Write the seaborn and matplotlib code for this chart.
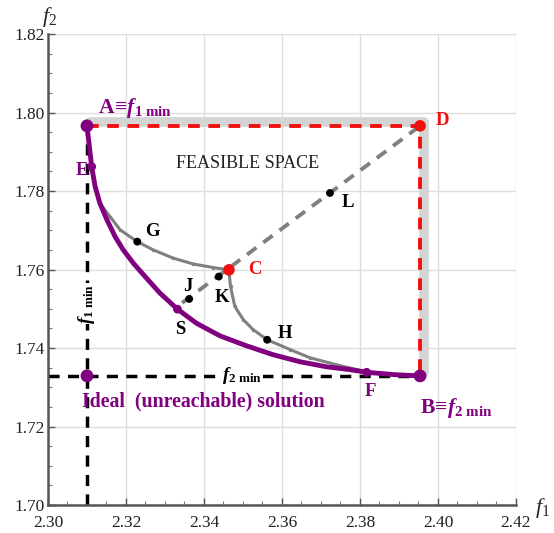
import numpy as np
import pandas as pd
import matplotlib
matplotlib.use("Agg")
import matplotlib.pyplot as plt
import matplotlib.transforms as mtransforms
import seaborn as sns

# Pareto front (objective space f1, f2)
pareto_f1 = [2.3100, 2.3112, 2.3121, 2.3133, 2.3151, 2.3172, 2.3193, 2.3219,
             2.3249, 2.3287, 2.3332, 2.3381, 2.3441, 2.3508, 2.3577, 2.3646,
             2.3715, 2.3774, 2.3818, 2.3890, 2.3954]
pareto_f2 = [1.7966, 1.7862, 1.7811, 1.7769, 1.7727, 1.7684, 1.7650, 1.7616,
             1.7582, 1.7540, 1.7499, 1.7463, 1.7431, 1.7406, 1.7383, 1.7365,
             1.7352, 1.7345, 1.7338, 1.7332, 1.7329]

# Trajectory E -> G -> C
upper_f1 = [2.3112, 2.3121, 2.3133, 2.3159, 2.3185, 2.3229, 2.3270, 2.3321,
            2.3373, 2.3424, 2.3464]
upper_f2 = [1.7862, 1.7811, 1.7769, 1.7735, 1.7701, 1.7671, 1.7650, 1.7629,
            1.7614, 1.7605, 1.7599]

# Trajectory C -> H -> F
lower_f1 = [2.3464, 2.3468, 2.3479, 2.3501, 2.3526, 2.3562, 2.3621, 2.3672,
            2.3749, 2.3818]
lower_f2 = [1.7597, 1.7557, 1.7506, 1.7472, 1.7447, 1.7421, 1.7396, 1.7375,
            1.7355, 1.7339]

# Named points
A = (2.3100, 1.7966)
B = (2.3954, 1.7329)
D = (2.3954, 1.7966)
C = (2.3464, 1.7599)
E = (2.3112, 1.7862)
F = (2.3817, 1.7338)
S = (2.3332, 1.7499)
G = (2.3229, 1.7671)
J = (2.3362, 1.7525)
K = (2.3438, 1.7582)
H = (2.3562, 1.7421)
L = (2.3723, 1.7795)
ideal = (A[0], B[1])
diag_start = (2.3344, 1.7515)

x_ticks = [2.30, 2.32, 2.34, 2.36, 2.38, 2.40, 2.42]
y_ticks = [1.70, 1.72, 1.74, 1.76, 1.78, 1.80, 1.82]

PURPLE = "#800080"
RED = "#f01010"
GRAY = "#808080"
LIGHT = "#d4d4d4"

sns.set_theme(style="white")
plt.rcParams["font.family"] = ["Liberation Serif", "DejaVu Serif"]
plt.rcParams["mathtext.fontset"] = "custom"
plt.rcParams["mathtext.rm"] = "Liberation Serif"
plt.rcParams["mathtext.it"] = "Liberation Serif:italic"
plt.rcParams["mathtext.bf"] = "Liberation Serif:bold"
plt.rcParams["mathtext.bfit"] = "Liberation Serif:bold:italic"

fig = plt.figure(figsize=(5.54, 5.33), dpi=100)
ax = fig.add_axes([0.0866, 0.0525, 0.8448, 0.8837])

ax.set_xlim(x_ticks[0], x_ticks[-1])
ax.set_ylim(y_ticks[0], y_ticks[-1])
ax.set_xticks(x_ticks)
ax.set_yticks(y_ticks)
ax.set_xticklabels([f"{v:.2f}" for v in x_ticks])
ax.set_yticklabels([f"{v:.2f}" for v in y_ticks])
ax.set_xticks(np.arange(2.30, 2.4201, 0.005), minor=True)
ax.set_yticks(np.arange(1.70, 1.8201, 0.005), minor=True)
ax.grid(True, which="major", color="#dedede", linewidth=1.0)
ax.set_axisbelow(True)
for side in ("top", "right"):
    ax.spines[side].set_visible(False)
for side in ("left", "bottom"):
    ax.spines[side].set_color("#555555")
    ax.spines[side].set_linewidth(1.8)
ax.tick_params(axis="both", which="major", direction="in", length=5, width=1,
               color="#555555", labelsize=12.5, labelcolor="#222222")
ax.tick_params(axis="both", which="minor", direction="in", length=3, width=0.8,
               color="#777777")
ax.tick_params(axis="x", which="major", pad=7, bottom=True)
ax.tick_params(axis="y", which="major", pad=2, left=True)
ax.tick_params(axis="x", which="minor", bottom=True)
ax.tick_params(axis="y", which="minor", left=True)

# Feasible-space boundary (light band, shifted slightly up/right)
shift = mtransforms.offset_copy(ax.transData, fig=fig, x=2.5, y=2.5, units="points")
ax.plot([A[0], D[0], B[0]], [A[1], D[1], B[1]], color=LIGHT, lw=7,
        solid_capstyle="round", solid_joinstyle="round", transform=shift, zorder=1)

# Ideal-point guides
ax.plot([ideal[0], ideal[0]], [y_ticks[0], A[1]], color="black", lw=2.5,
        dashes=(3.2, 2.4), zorder=2)
ax.plot([x_ticks[0], B[0]], [ideal[1], ideal[1]], color="black", lw=2.5,
        dashes=(3.2, 2.4), zorder=2)

# Red dashed A-D-B
ax.plot([A[0], D[0], B[0]], [A[1], D[1], B[1]], color=RED, lw=2.8,
        dashes=(3.0, 2.2), zorder=3)

# Gray dashed diagonal towards D
ax.plot([diag_start[0], D[0]], [diag_start[1], D[1]], color=GRAY, lw=2.8,
        dashes=(3.0, 2.2), zorder=3)

# Gray trajectories
traj = pd.concat([
    pd.DataFrame({"f1": upper_f1, "f2": upper_f2, "seg": "upper"}),
    pd.DataFrame({"f1": lower_f1, "f2": lower_f2, "seg": "lower"}),
])
sns.lineplot(data=traj, x="f1", y="f2", units="seg", estimator=None, sort=False,
             color=GRAY, lw=2.2, marker="o", markersize=2.5, markeredgewidth=0,
             ax=ax, zorder=4)

# Pareto front
front = pd.DataFrame({"f1": pareto_f1, "f2": pareto_f2})
sns.lineplot(data=front, x="f1", y="f2", sort=False, estimator=None,
             color=PURPLE, lw=3.5, ax=ax, zorder=5,
             solid_joinstyle="round", solid_capstyle="round")

# Points
big = pd.DataFrame({"f1": [A[0], B[0], ideal[0]], "f2": [A[1], B[1], ideal[1]]})
sns.scatterplot(data=big, x="f1", y="f2", color=PURPLE, s=85, edgecolor="none",
                ax=ax, zorder=6)
small = pd.DataFrame({"f1": [E[0], F[0], S[0]], "f2": [E[1], F[1], S[1]]})
sns.scatterplot(data=small, x="f1", y="f2", color=PURPLE, s=40, edgecolor="none",
                ax=ax, zorder=6)
reds = pd.DataFrame({"f1": [C[0], D[0]], "f2": [C[1], D[1]]})
sns.scatterplot(data=reds, x="f1", y="f2", color=RED, s=70, edgecolor="none",
                ax=ax, zorder=6)
blacks = pd.DataFrame({"f1": [G[0], J[0], K[0], H[0], L[0]],
                       "f2": [G[1], J[1], K[1], H[1], L[1]]})
sns.scatterplot(data=blacks, x="f1", y="f2", color="black", s=32, edgecolor="none",
                ax=ax, zorder=6)

ax.set_xlabel("")
ax.set_ylabel("")

fs = 13.5
bold = dict(fontsize=fs, fontweight="bold")
ax.text(2.3128, 1.8012, r"$\mathbf{A}\!\equiv\!\mathbfit{f}_{\mathbf{1\ min}}$",
        color=PURPLE, fontsize=15.5, ha="left", va="center", zorder=7)
ax.text(2.3995, 1.7979, "D", color=RED, ha="left", va="center", **bold)
ax.text(2.3087, 1.7853, "E", color=PURPLE, ha="center", va="center", **bold)
ax.text(2.3267, 1.7696, "G", color="black", ha="center", va="center", **bold)
ax.text(2.3531, 1.7599, "C", color=RED, ha="center", va="center", **bold)
ax.text(2.3359, 1.7556, "J", color="black", ha="center", va="center", **bold)
ax.text(2.3446, 1.7528, "K", color="black", ha="center", va="center", **bold)
ax.text(2.3338, 1.7446, "S", color="black", ha="center", va="center", **bold)
ax.text(2.3608, 1.7438, "H", color="black", ha="center", va="center", **bold)
ax.text(2.3769, 1.7770, "L", color="black", ha="center", va="center", **bold)
ax.text(2.3826, 1.7288, "F", color=PURPLE, ha="center", va="center", **bold)
ax.text(2.3954, 1.7248, r"$\mathbf{B}\!\equiv\!\mathbfit{f}_{\mathbf{2\ min}}$",
        color=PURPLE, fontsize=15.5, ha="left", va="center", zorder=7)
ax.text(2.3087, 1.7263, "Ideal  (unreachable) solution", color=PURPLE,
        ha="left", va="center", fontsize=14.3, fontweight="bold")
ax.text(2.3512, 1.7869, "FEASIBLE SPACE", color="#222222", fontsize=13,
        ha="center", va="center")
ax.text(2.3446, 1.7331, r"$\mathbfit{f}_{\mathbf{2\ min}}$", color="black",
        fontsize=fs, ha="left", va="center", zorder=7,
        bbox=dict(facecolor="white", edgecolor="none", pad=0.5))
ax.text(ideal[0], 1.7513, r"$\mathbfit{f}_{\mathbf{1\ min}}$", color="black",
        fontsize=fs, ha="center", va="center", rotation=90, zorder=7,
        bbox=dict(facecolor="white", edgecolor="none", pad=0.5))

# Axis names
fig.text(50 / 554, 1 - 17 / 533, r"$f_2$", fontsize=16, ha="center", va="center")
fig.text(543 / 554, 1 - 508 / 533, r"$f_1$", fontsize=16, ha="center", va="center")

fig.savefig("out.png", dpi=100)
